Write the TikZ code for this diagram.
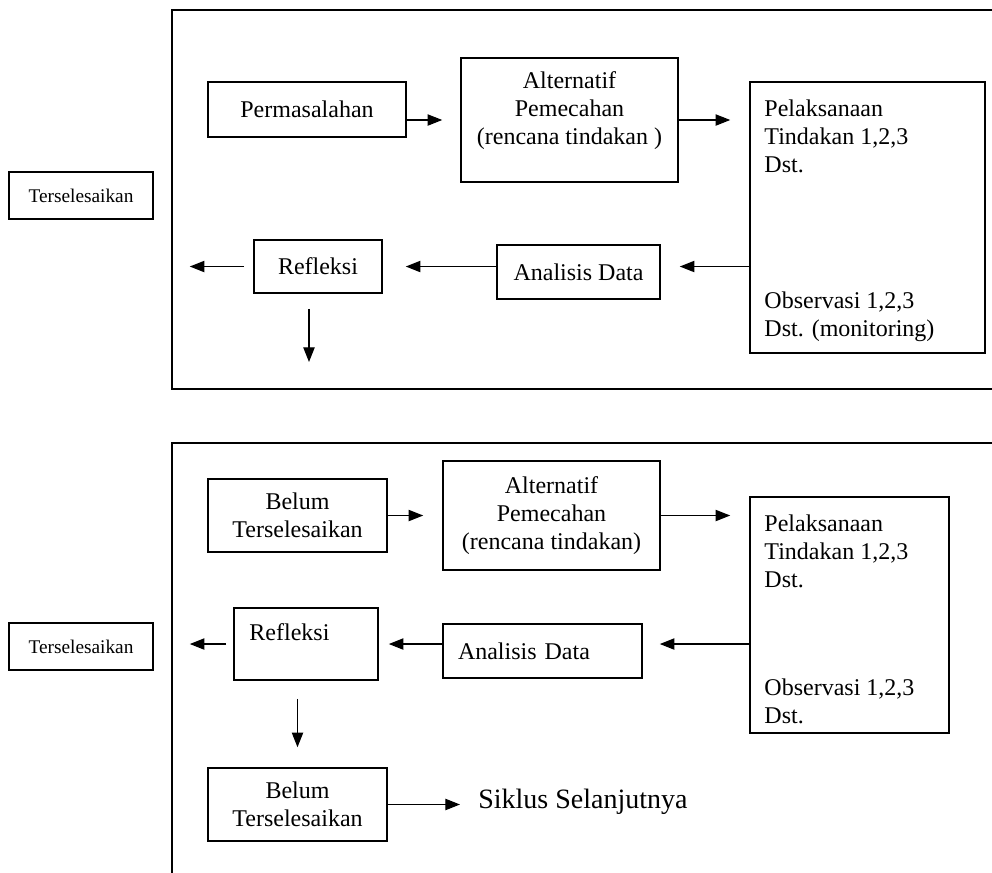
\documentclass[tikz,border=0pt]{standalone}
\usepackage{fontspec}
\setmainfont{Liberation Serif}
\usetikzlibrary{arrows.meta}

\tikzset{
  box/.style={draw, line width=1.2pt, inner sep=0pt, align=center,
    font=\fontsize{18}{21}\selectfont},
  txt/.style={inner sep=0pt, font=\fontsize{18}{21}\selectfont},
  small/.style={box, font=\fontsize{14.5}{17}\selectfont},
  arr/.style={-{Triangle[length=11pt,width=8.5pt]}, line width=0.9pt},
  frame/.style={line width=1.4pt}
}

\begin{document}
\begin{tikzpicture}[x=0.75pt, y=-0.75pt]
        \useasboundingbox (0,0) rectangle (992,872);
        % Siklus I
        \draw[frame] (1000,10) -- (172,10) -- (172,389) -- (1000,389);
        \node[small, minimum width=108pt, minimum height=35.25pt] (done1) at (81,195.5) {Terselesaikan};
        \node[box, minimum width=148.5pt, minimum height=41.25pt] (prob) at (307,109.5) {Permasalahan};
        \node[box, minimum width=162.75pt, minimum height=93pt] (alt1) at (569.5,120) {};
        \node[txt, align=center, anchor=north] (alt1txt) at ([yshift=-10.5pt]alt1.north) {Alternatif\\Pemecahan\\(rencana tindakan )};
        \node[box, minimum width=176.25pt, minimum height=203.25pt] (act1) at (867.5,217.5) {};
        \node[txt, align=left, anchor=north west] (act1top) at ([shift={(11.25pt,-13.5pt)}]act1.north west) {Pelaksanaan\\Tindakan 1,2,3\\Dst.};
        \node[txt, align=left, anchor=south west] (act1bot) at ([shift={(11.25pt,9pt)}]act1.south west) {Observasi 1,2,3\\Dst. (monitoring)};
        \node[box, minimum width=122.25pt, minimum height=40.5pt] (ana1) at (578.5,272) {Analisis Data};
        \node[box, minimum width=96pt, minimum height=39.75pt] (refl1) at (318,266.5) {Refleksi};
        \coordinate (cont1) at (309,362); % ke siklus berikutnya
        \draw[arr, shorten >=13.5pt] (prob.east |- alt1) -- (alt1);
        \draw[arr, shorten >=14.25pt] (alt1) -- (alt1 -| act1.west);
        \draw[arr, shorten >=14.25pt] (act1.west |- refl1) -- (ana1.east |- refl1);
        \draw[arr, shorten >=17.25pt] (ana1.west |- refl1) -- (refl1);
        \draw[arr, shorten <=6.75pt, shorten >=27pt] (refl1) -- (done1.east |- refl1);
        \draw[arr, shorten <=11.25pt] (refl1.south -| cont1) -- (cont1);
        % Siklus II
        \draw[frame] (1000,443) -- (172,443) -- (172,880);
        \node[small, minimum width=108pt, minimum height=35.25pt] (done2) at (81,646.5) {Terselesaikan};
        \node[box, minimum width=134.25pt, minimum height=54.75pt] (belum1) at (297.5,515.5) {Belum\\Terselesaikan};
        \node[box, minimum width=162.75pt, minimum height=81.75pt] (alt2) at (551.5,515.5) {Alternatif\\Pemecahan\\(rencana tindakan)};
        \node[box, minimum width=149.25pt, minimum height=177pt] (act2) at (849.5,615) {};
        \node[txt, align=left, anchor=north west] (act2top) at ([shift={(11.25pt,-13.5pt)}]act2.north west) {Pelaksanaan\\Tindakan 1,2,3\\Dst.};
        \node[txt, align=left, anchor=south west] (act2bot) at ([shift={(11.25pt,7.5pt)}]act2.south west) {Observasi 1,2,3\\Dst.};
        \node[box, align=left, inner xsep=11.25pt, text width=126.75pt, minimum height=40.5pt] (ana2) at (542.5,651) {Analisis Data};
        \node[box, minimum width=108pt, minimum height=54pt] (refl2) at (306,644) {};
        \node[txt, anchor=north west] (refl2txt) at ([shift={(12pt,-12pt)}]refl2.north west) {Refleksi};
        \node[box, minimum width=134.25pt, minimum height=54.75pt] (belum2) at (297.5,804.5) {Belum\\Terselesaikan};
        \node[txt, anchor=west, font=\fontsize{21}{25}\selectfont] (next) at (478,802) {Siklus Selanjutnya};
        \draw[arr, shorten >=14.25pt] (belum1) -- (alt2);
        \draw[arr, shorten >=14.25pt] (alt2) -- (alt2 -| act2.west);
        \draw[arr, shorten >=12.75pt] (act2.west |- refl2) -- (ana2.east |- refl2);
        \draw[arr, shorten >=7.5pt] (ana2.west |- refl2) -- (refl2);
        \draw[arr, shorten <=5.25pt, shorten >=27pt] (refl2) -- (done2.east |- refl2);
        \draw[arr, shorten <=13.5pt, shorten >=15pt] (refl2.south -| belum2) -- (belum2);
        \draw[arr, shorten >=13.5pt] (belum2) -- (belum2 -| next.west);
\end{tikzpicture}
\end{document}
